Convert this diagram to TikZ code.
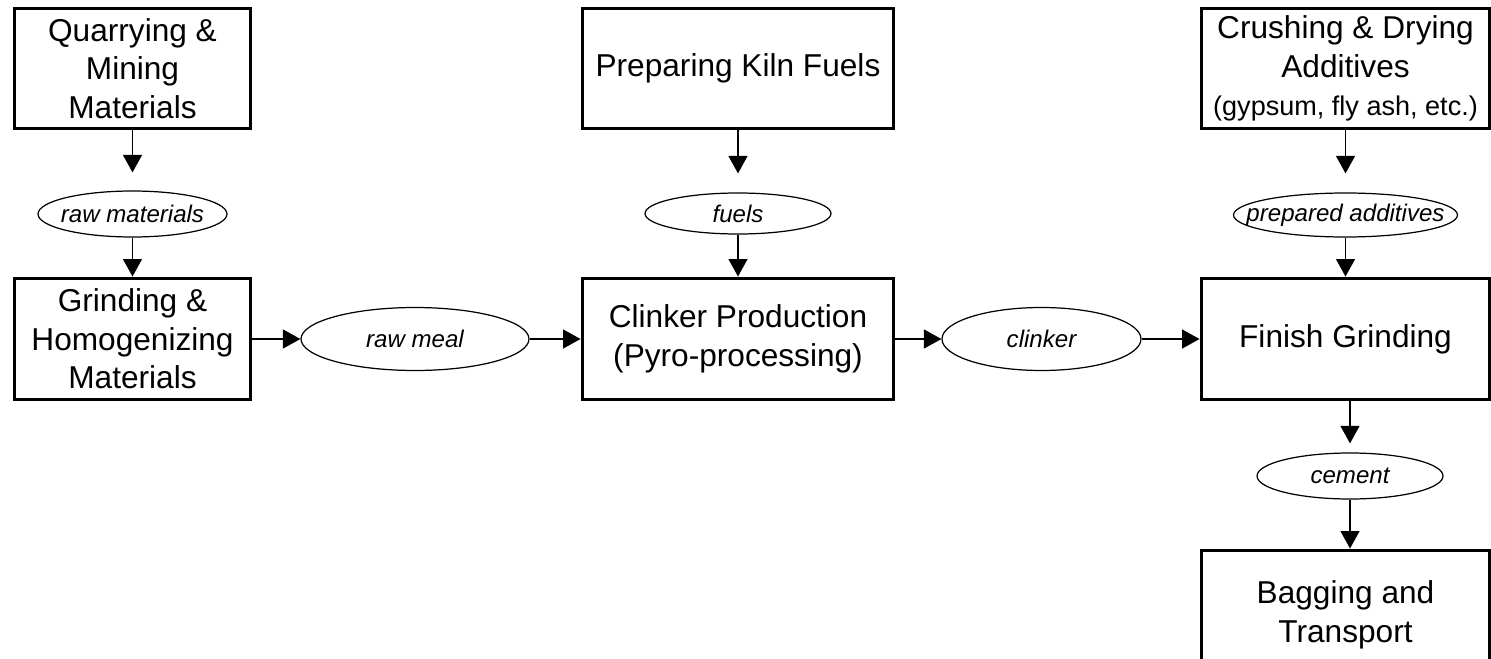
\documentclass[tikz,border=0pt]{standalone}
\usepackage{fontspec}
\setmainfont{Liberation Sans}
\usetikzlibrary{shapes.geometric,arrows.meta}
\newcommand{\flowlabel}[1]{\makebox[0pt]{#1}}

\begin{document}
\begin{tikzpicture}[x=0.02cm, y=-0.02cm,
	stepbox/.style={draw, line width=1.7pt, rectangle, inner sep=0pt, align=center, font=\fontsize{18}{21.9}\selectfont},
	flow/.style={ellipse, draw, line width=0.7pt, inner sep=0pt, font=\fontsize{13.7}{16}\selectfont\itshape},
	feed/.style={-{Triangle[length=0.35cm, width=0.38cm]}, line width=0.7pt}]
\clip (0,0) rectangle (1491,659);
% process steps
\node[stepbox, minimum width=4.74cm, minimum height=2.42cm] (quarry) at (132.5,68.5) {Quarrying \&\\Mining\\Materials};
\node[stepbox, minimum width=6.24cm, minimum height=2.42cm] (prepfuel) at (738,68.5) {Preparing Kiln Fuels};
\node[stepbox, minimum width=5.78cm, minimum height=2.42cm] (additives) at (1345.5,68.5) {Crushing \& Drying\\Additives\\\fontsize{15.4}{21.9}\selectfont (gypsum, fly ash, etc.)};
\node[stepbox, minimum width=4.74cm, minimum height=2.44cm] (grind) at (132.5,339) {Grinding \&\\Homogenizing\\Materials};
\node[stepbox, minimum width=6.24cm, minimum height=2.44cm] (clinkerprod) at (738,339) {Clinker Production\\(Pyro-processing)};
\node[stepbox, minimum width=5.78cm, minimum height=2.44cm] (finish) at (1345.5,339) {Finish Grinding};
\node[stepbox, minimum width=5.78cm, minimum height=2.6cm] (bagging) at (1345.5,615) {Bagging and\\Transport};
% materials
\node[flow, minimum width=3.78cm, minimum height=0.92cm] (rawmat) at (132.5,214) {\flowlabel{raw materials}};
\node[flow, minimum width=3.72cm, minimum height=0.82cm] (fuels) at (738,213.5) {\flowlabel{fuels}};
\node[flow, minimum width=4.48cm, minimum height=0.88cm] (prepared) at (1345.5,215) {\flowlabel{prepared additives}};
\node[flow, minimum width=4.56cm, minimum height=1.26cm] (rawmeal) at (415,339) {\flowlabel{raw meal}};
\node[flow, minimum width=3.98cm, minimum height=1.26cm] (clinker) at (1041.5,339) {\flowlabel{clinker}};
\node[flow, minimum width=3.72cm, minimum height=0.92cm] (cement) at (1350,476) {\flowlabel{cement}};
% connectors
\draw[feed, shorten >=0.36cm] (quarry) -- (rawmat);
\draw[feed] (rawmat) -- (grind);
\draw[feed, shorten >=0.38cm] (prepfuel) -- (fuels);
\draw[feed] (fuels) -- (clinkerprod);
\draw[feed, shorten >=0.38cm] (additives) -- (prepared);
\draw[feed] (prepared) -- (finish);
\draw[feed] (grind) -- (rawmeal);
\draw[feed] (rawmeal) -- (clinkerprod);
\draw[feed] (clinkerprod) -- (clinker);
\draw[feed] (clinker) -- (finish);
\draw[feed, shorten >=0.18cm] (finish.south -| cement) -- (cement);
\draw[feed] (cement) -- (cement |- bagging.north);
\end{tikzpicture}
\end{document}
